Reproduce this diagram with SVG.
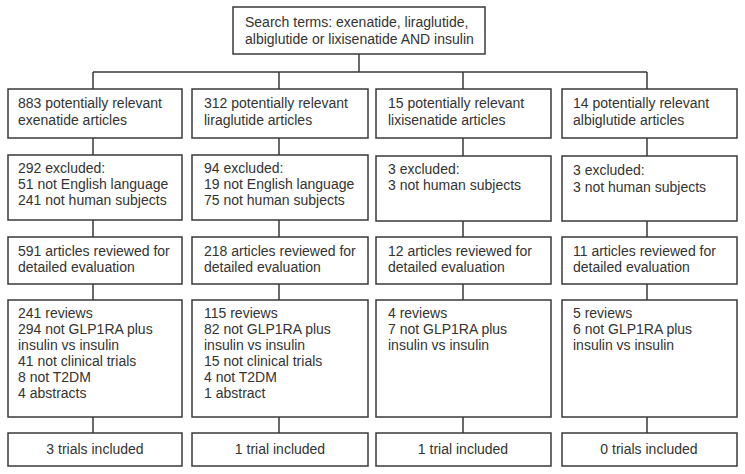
<svg xmlns="http://www.w3.org/2000/svg" width="745" height="474" viewBox="0 0 745 474">
<style>
.box{fill:#fff;stroke:#3a3a3a;stroke-width:1.5}
.ln{stroke:#3a3a3a;stroke-width:1.5;fill:none}
text{font-family:"Liberation Sans",Arial,sans-serif;font-size:14px;fill:#333}
.c{text-anchor:middle}
</style>
<rect width="745" height="474" fill="#fff"/>
<g id="connectors">
<path class="ln" d="M359 54V72M93 72H647M93 72V89M279 72V89M463 72V89M647 72V89"/>
<path class="ln" d="M93 138V155M279 138V155M463 138V156M647 138V156"/>
<path class="ln" d="M93 220V237M279 220V237M463 221V237M647 221V237"/>
<path class="ln" d="M93 284V300M279 284V300M463 284V300M647 284V300"/>
<path class="ln" d="M93 417V433M279 417V433M463 417V433M647 417V433"/>
</g>
<g id="search">
<rect class="box" x="233" y="7" width="252" height="47"/>
<text x="245" y="27">Search terms: exenatide, liraglutide,</text>
<text x="245" y="44">albiglutide or lixisenatide AND insulin</text>
</g>
<g id="exe1"><rect class="box" x="8" y="89" width="174" height="49"/>
<text x="18" y="108">883 potentially relevant</text><text x="18" y="125">exenatide articles</text></g>
<g id="lira1"><rect class="box" x="192" y="89" width="176" height="49"/>
<text x="204" y="108">312 potentially relevant</text><text x="204" y="125">liraglutide articles</text></g>
<g id="lixi1"><rect class="box" x="376" y="89" width="175" height="49"/>
<text x="388" y="108">15 potentially relevant</text><text x="388" y="125">lixisenatide articles</text></g>
<g id="albi1"><rect class="box" x="562" y="89" width="175" height="49"/>
<text x="573" y="108">14 potentially relevant</text><text x="573" y="125">albiglutide articles</text></g>

<g id="exe2"><rect class="box" x="8" y="155" width="174" height="65"/>
<text x="18" y="173">292 excluded:</text><text x="18" y="189">51 not English language</text><text x="18" y="205">241 not human subjects</text></g>
<g id="lira2"><rect class="box" x="192" y="155" width="176" height="65"/>
<text x="204" y="173">94 excluded:</text><text x="204" y="189">19 not English language</text><text x="204" y="205">75 not human subjects</text></g>
<g id="lixi2"><rect class="box" x="376" y="156" width="175" height="65"/>
<text x="388" y="174">3 excluded:</text><text x="388" y="190">3 not human subjects</text></g>
<g id="albi2"><rect class="box" x="562" y="156" width="175" height="65"/>
<text x="573" y="175">3 excluded:</text><text x="573" y="192">3 not human subjects</text></g>

<g id="exe3"><rect class="box" x="8" y="237" width="174" height="47"/>
<text x="18" y="256">591 articles reviewed for</text><text x="18" y="272">detailed evaluation</text></g>
<g id="lira3"><rect class="box" x="192" y="237" width="176" height="47"/>
<text x="204" y="256">218 articles reviewed for</text><text x="204" y="272">detailed evaluation</text></g>
<g id="lixi3"><rect class="box" x="376" y="237" width="175" height="47"/>
<text x="388" y="256">12 articles reviewed for</text><text x="388" y="272">detailed evaluation</text></g>
<g id="albi3"><rect class="box" x="562" y="237" width="175" height="47"/>
<text x="573" y="256">11 articles reviewed for</text><text x="573" y="272">detailed evaluation</text></g>

<g id="exe4"><rect class="box" x="8" y="300" width="174" height="117"/>
<text x="18" y="318">241 reviews</text><text x="18" y="334">294 not GLP1RA plus</text><text x="18" y="350">insulin vs insulin</text><text x="18" y="366">41 not clinical trials</text><text x="18" y="382">8 not T2DM</text><text x="18" y="398">4 abstracts</text></g>
<g id="lira4"><rect class="box" x="192" y="300" width="176" height="117"/>
<text x="204" y="318">115 reviews</text><text x="204" y="334">82 not GLP1RA plus</text><text x="204" y="350">insulin vs insulin</text><text x="204" y="366">15 not clinical trials</text><text x="204" y="382">4 not T2DM</text><text x="204" y="398">1 abstract</text></g>
<g id="lixi4"><rect class="box" x="376" y="300" width="175" height="117"/>
<text x="388" y="318">4 reviews</text><text x="388" y="334">7 not GLP1RA plus</text><text x="388" y="350">insulin vs insulin</text></g>
<g id="albi4"><rect class="box" x="562" y="300" width="175" height="117"/>
<text x="573" y="318">5 reviews</text><text x="573" y="334">6 not GLP1RA plus</text><text x="573" y="350">insulin vs insulin</text></g>

<g id="exe5"><rect class="box" x="8" y="433" width="174" height="33"/><text class="c" x="95" y="454">3 trials included</text></g>
<g id="lira5"><rect class="box" x="192" y="433" width="176" height="33"/><text class="c" x="280" y="454">1 trial included</text></g>
<g id="lixi5"><rect class="box" x="376" y="433" width="175" height="33"/><text class="c" x="463" y="454">1 trial included</text></g>
<g id="albi5"><rect class="box" x="562" y="433" width="175" height="33"/><text class="c" x="649" y="454">0 trials included</text></g>
</svg>
